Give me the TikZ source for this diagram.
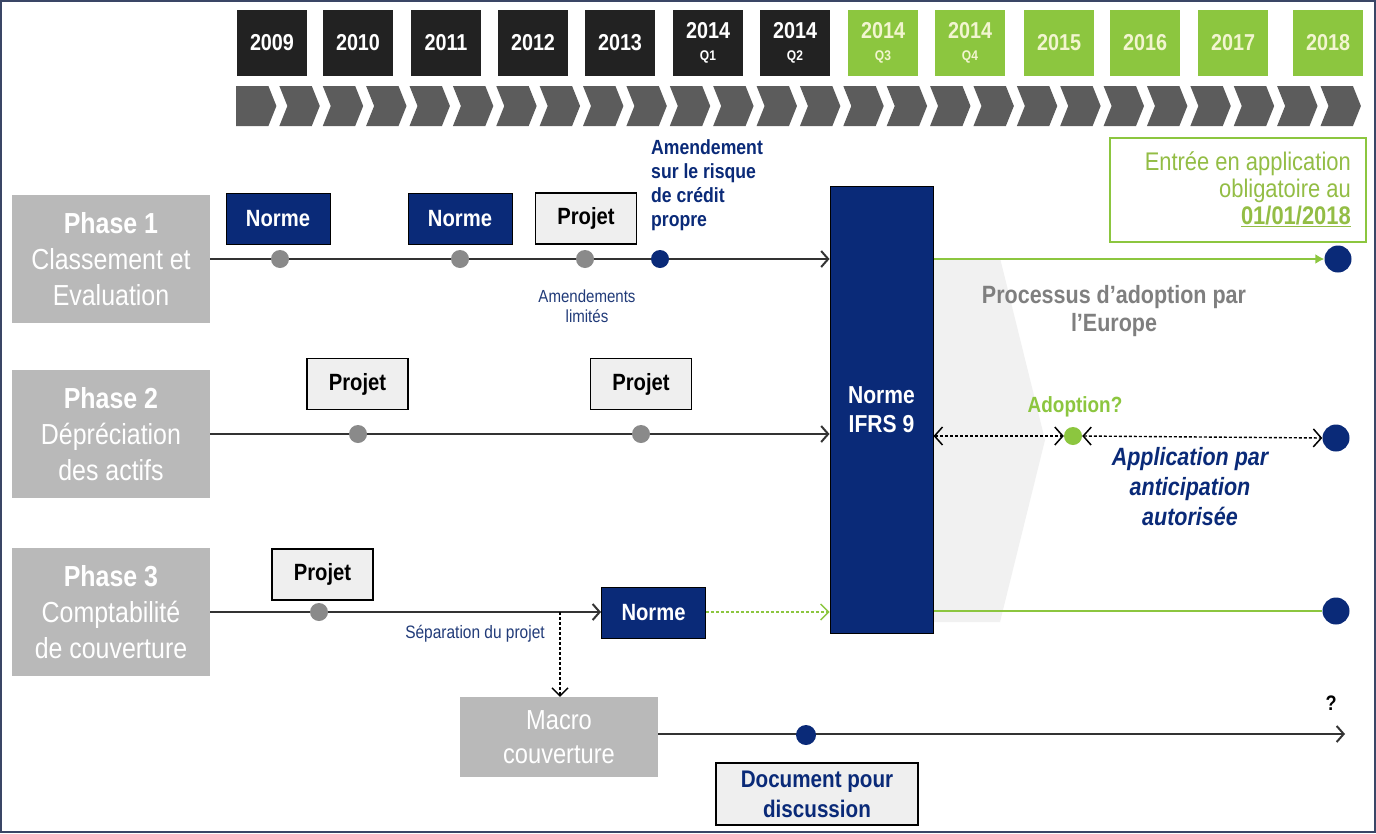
\documentclass[tikz,border=0pt]{standalone}
\usepackage{fontspec}
\setmainfont{Liberation Sans}[FakeStretch=0.86]
\usetikzlibrary{arrows.meta}
\definecolor{navy}{HTML}{0A2A78}
\definecolor{lime}{HTML}{8CC63F}
\definecolor{limetext}{HTML}{93BD45}
\definecolor{yearblack}{HTML}{222222}
\definecolor{chev}{HTML}{5C5C5C}
\definecolor{phasegray}{HTML}{B9B9B9}
\definecolor{dotgray}{HTML}{8A8A8A}
\definecolor{linecol}{HTML}{333333}
\definecolor{boxfill}{HTML}{EFEFEF}
\definecolor{framecol}{HTML}{3A4666}
\definecolor{bgchev}{HTML}{F1F1F1}
\definecolor{procgray}{HTML}{7F7F7F}
\definecolor{yeartext}{HTML}{F2F5D0}
\tikzset{
  yearbox/.style={minimum width=70, minimum height=66, inner sep=0, align=center, font=\bfseries\fontsize{23}{23}\selectfont},
  phasebox/.style={fill=phasegray, minimum width=198, minimum height=128, inner sep=0, align=center, text=white, font=\fontsize{29}{36}\selectfont},
  normebox/.style={fill=navy, draw=black, line width=1, minimum width=104, minimum height=51, inner sep=0, text=white, font=\bfseries\fontsize{23.5}{24}\selectfont},
  projetbox/.style={fill=boxfill, draw=black, line width=1.8, minimum width=101, minimum height=51, inner sep=0, text=black, font=\bfseries\fontsize{23.5}{24}\selectfont},
  gdot/.style={circle, fill=dotgray, minimum size=18, inner sep=0},
  ndot/.style={circle, fill=navy, minimum size=18, inner sep=0},
  bigdot/.style={circle, fill=navy, minimum size=27, inner sep=0},
  tline/.style={draw=linecol, line width=2.4},
  arr/.style={-{Straight Barb[length=7,width=16,line width=2]}},
  darr/.style={dashed, dash pattern=on 3 off 2, line width=1.4, draw=black, {Straight Barb[length=8,width=18,line width=1.5]}-{Straight Barb[length=8,width=18,line width=1.5]}},
}
\begin{document}
\begin{tikzpicture}[x=1pt,y=-1pt]
\useasboundingbox (0,0) rectangle (1376,833);
\fill[white] (0,0) rectangle (1376,833);
% year boxes
\foreach \cx/\lab/\col/\tc in {272/2009/yearblack/white, 358/2010/yearblack/white, 446/2011/yearblack/white, 533/2012/yearblack/white, 620/2013/yearblack/white, 1059/2015/lime/yeartext, 1145/2016/lime/yeartext, 1233/2017/lime/yeartext, 1328/2018/lime/yeartext}
  \node[yearbox, fill=\col, text=\tc] (y\lab) at (\cx,43) {\lab};
\node[yearbox, fill=yearblack, text=white] (yq1) at (708,43) {2014\\[-1pt]{\fontsize{14}{15}\selectfont Q1}};
\node[yearbox, fill=yearblack, text=white] (yq2) at (795,43) {2014\\[-1pt]{\fontsize{14}{15}\selectfont Q2}};
\node[yearbox, fill=lime, text=yeartext] (yq3) at (883,43) {2014\\[-1pt]{\fontsize{14}{15}\selectfont Q3}};
\node[yearbox, fill=lime, text=yeartext] (yq4) at (970,43) {2014\\[-1pt]{\fontsize{14}{15}\selectfont Q4}};
% chevron band
\foreach \i in {0,...,25}{
  \pgfmathsetmacro{\xa}{236+\i*43.38}
  \ifnum\i=0
    \fill[chev] (\xa,86) -- (\xa+32.4,86) -- (\xa+40.4,106) -- (\xa+32.4,126) -- (\xa,126) -- cycle;
  \else
    \fill[chev] (\xa,86) -- (\xa+32.4,86) -- (\xa+40.4,106) -- (\xa+32.4,126) -- (\xa,126) -- (\xa+8,106) -- cycle;
  \fi
}
% background chevron (adoption process)
\fill[bgchev] (933,258) -- (1000,258) -- (1045,440) -- (1000,622) -- (933,622) -- cycle;
% phase boxes
\node[phasebox] (p1) at (111,259) {\textbf{Phase 1}\\Classement et\\Evaluation};
\node[phasebox] (p2) at (111,434) {\textbf{Phase 2}\\Dépréciation\\des actifs};
\node[phasebox] (p3) at (111,612) {\textbf{Phase 3}\\Comptabilité\\de couverture};
\node[fill=phasegray, minimum width=198, minimum height=80, inner sep=0, align=center, text=white, font=\fontsize{27.5}{34}\selectfont] (macro) at (559,737) {Macro\\couverture};
% IFRS 9 box
\node[fill=navy, draw=black, line width=1, minimum width=103, minimum height=447, inner sep=0, align=center, text=white, font=\bfseries\fontsize{24.5}{29}\selectfont] (ifrs) at (881.5,409.5) {Norme\\IFRS 9};
% phase 1
\draw[tline, arr] (p1.east) -- (p1.east -| ifrs.west);
\node[normebox] (n1a) at (278,218.5) {Norme};
\node[normebox] (n1b) at (460,218.5) {Norme};
\node[projetbox] (pj1) at (586,218.5) {Projet};
\node[gdot] (d1a) at (280,259) {};
\node[gdot] (d1b) at (460,259) {};
\node[gdot] (d1c) at (585,259) {};
\node[ndot] (d1d) at (660,259) {};
\node[anchor=north west, align=left, text=navy, inner sep=0, font=\bfseries\fontsize{20.5}{24}\selectfont] (amend) at (651,139) {Amendement\\sur le risque\\de crédit\\propre};
\node[align=center, text=navy!80!gray, inner sep=0, font=\fontsize{17.5}{20}\selectfont] (amlim) at (587,306) {Amendements\\limités};
% phase 2
\draw[tline, arr] (p2.east) -- (p2.east -| ifrs.west);
\node[projetbox] (pj2a) at (357.5,384) {Projet};
\node[projetbox] (pj2b) at (641,384) {Projet};
\node[gdot] (d2a) at (358,434) {};
\node[gdot] (d2b) at (641,434) {};
% phase 3
\node[normebox] (n3) at (653.5,613) {Norme};
\draw[tline, arr] (p3.east) -- (n3.west |- p3.east);
\node[projetbox] (pj3) at (322.5,574.5) {Projet};
\node[gdot] (d3a) at (319,612) {};
\coordinate (sep) at (560,612);
\draw[dashed, dash pattern=on 3 off 2, line width=1.4, -{Straight Barb[length=8,width=16,line width=1.4]}] (sep) -- (sep |- macro.north);
\node[text=navy!80!gray, inner sep=0, font=\fontsize{18}{20}\selectfont] (septxt) at (475,634) {Séparation du projet};
\draw[lime, dashed, dash pattern=on 3 off 2, line width=1.4, -{Straight Barb[length=8,width=16,line width=1.4]}] (n3.east |- p3.east) -- (p3.east -| ifrs.west);
% right side
\node[bigdot] (e1) at (1338,259) {};
\node[bigdot] (e2) at (1336,438) {};
\node[bigdot] (e3) at (1336,611) {};
\draw[lime, line width=2.8, -{Latex[length=9,width=10]}] (ifrs.east |- e1) -- (e1.west);
\draw[lime, line width=2.8] (ifrs.east |- e3) -- (e3.west);
\node[circle, fill=lime, minimum size=18, inner sep=0] (adot) at (1073,436) {};
\draw[darr] (ifrs.east |- adot) -- (adot.west);
\draw[darr] (adot.east) -- (e2.west);
\node[text=lime, inner sep=0, font=\bfseries\fontsize{22}{24}\selectfont] (adopt) at (1075,407) {Adoption?};
\node[align=center, text=navy, inner sep=0, font=\bfseries\itshape\fontsize{25}{30}\selectfont] (antic) at (1190,487) {Application par\\anticipation\\autorisée};
\node[align=center, text=procgray, inner sep=0, font=\bfseries\fontsize{25}{28}\selectfont] (proc) at (1114,311) {Processus d'adoption par\\l'Europe};
\node[draw=lime, line width=2.6, minimum width=256, minimum height=104, inner sep=0] (entree) at (1238,190) {};
\node[anchor=east, align=right, text=limetext, inner sep=0, font=\fontsize{25.5}{27}\selectfont] (entreetxt) at (1351,189) {Entrée en application\\obligatoire au\\\textbf{\underline{01/01/2018}}};
% macro line
\coordinate (mend) at (1345,734);
\draw[tline, arr] (macro.east |- mend) -- (mend);
\node[circle, fill=navy, minimum size=20, inner sep=0] (mdot) at (806,735) {};
\node[text=black, inner sep=0, font=\bfseries\fontsize{21}{22}\selectfont] (qm) at (1331,703) {?};
\node[fill=boxfill, draw=black, line width=1.8, minimum width=202, minimum height=62, inner sep=0, align=center, text=navy, font=\bfseries\fontsize{24}{30}\selectfont] (doc) at (817,794) {Document pour\\discussion};
% frame
\draw[framecol, line width=2.5] (1,1) rectangle (1375,832);
\end{tikzpicture}
\end{document}
